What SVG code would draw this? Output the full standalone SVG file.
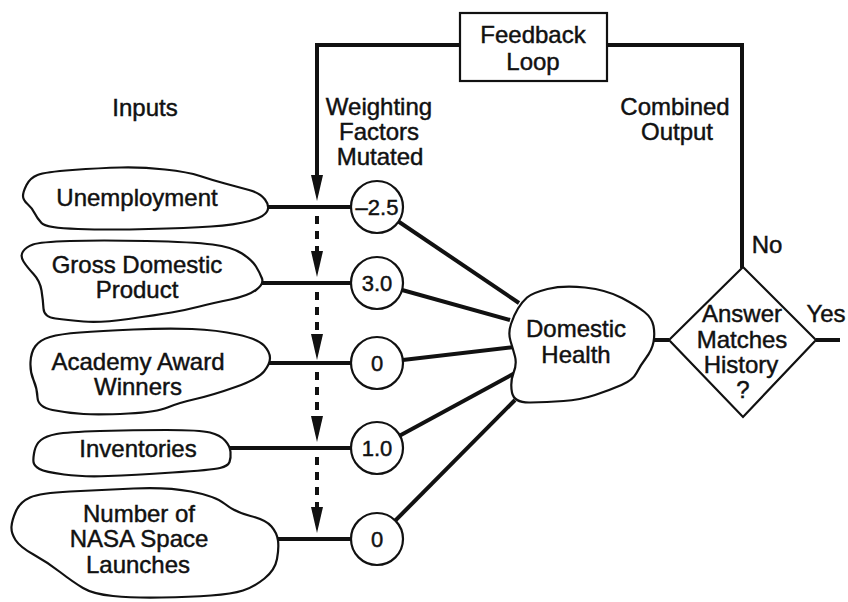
<svg xmlns="http://www.w3.org/2000/svg" width="848" height="602" viewBox="0 0 848 602">
<style>
text{font-family:"Liberation Sans",Arial,sans-serif;font-size:24px;fill:#111;stroke:#111;stroke-width:0.45;text-anchor:middle}
.num{font-size:22px}
.blob{fill:#fff;stroke:#111;stroke-width:2.2;stroke-linejoin:round}
.circ{fill:#fff;stroke:#111;stroke-width:2.2}
.box{fill:#fff;stroke:#111;stroke-width:2.2}
.ln{fill:none;stroke:#111;stroke-width:4}
.dash{fill:none;stroke:#111;stroke-width:4;stroke-dasharray:8 7;stroke-dashoffset:8}
</style>
<defs>
<marker id="arr" markerUnits="userSpaceOnUse" markerWidth="26" markerHeight="14" viewBox="0 0 26 14" refX="1" refY="7" orient="auto">
<path d="M0,1 L26,7 L0,13 Z" fill="#111"/>
</marker>
</defs>
<rect width="848" height="602" fill="#fff"/>
<g id="connectors">
<path class="ln" d="M742,268 V45 H607"/>
<path class="ln" d="M460,45 H317 V176" marker-end="url(#arr)"/>
<path class="dash" d="M317,209 V252" marker-end="url(#arr)"/>
<path class="dash" d="M317,285 V335" marker-end="url(#arr)"/>
<path class="dash" d="M317,365 V417" marker-end="url(#arr)"/>
<path class="dash" d="M317,450 V508" marker-end="url(#arr)"/>
<path class="ln" d="M266,207 H352"/>
<path class="ln" d="M261,283 H352"/>
<path class="ln" d="M268,363 H352"/>
<path class="ln" d="M229,448 H352"/>
<path class="ln" d="M276,539 H352"/>
<path class="ln" d="M377,207 L519,303"/>
<path class="ln" d="M377,283 L510,320"/>
<path class="ln" d="M377,363 L515,347"/>
<path class="ln" d="M377,448 L515,373"/>
<path class="ln" d="M377,539 L515,400"/>
<path class="ln" d="M653,340 H669"/>
<path class="ln" d="M816,340 H840"/>
</g>
<g id="feedback">
<rect class="box" x="460" y="13" width="147" height="68"/>
<text x="533" y="43">Feedback</text>
<text x="533" y="70">Loop</text>
</g>
<g id="labels">
<text x="145" y="116">Inputs</text>
<text x="379" y="115">Weighting</text>
<text x="379" y="140">Factors</text>
<text x="380" y="165">Mutated</text>
<text x="675" y="115">Combined</text>
<text x="677" y="140">Output</text>
<text x="767" y="253">No</text>
<text x="826" y="322">Yes</text>
</g>
<g id="in-unemployment">
<path class="blob" d="M23,196 Q23,192 26.5,185 Q30,178 37.5,175 Q45,172 72.5,170 Q100,168 121,167.5 Q142,167 165,169.5 Q188,172 200,176 Q212,180 225,183.5 Q238,187 249,190 Q260,193 265,199.5 Q270,206 267,211.5 Q264,217 249.5,221 Q235,225 211,226.5 Q187,228 148.5,229 Q110,230 78,229 Q46,228 41.5,223 Q37,218 34.5,213 Q32,208 27.5,204 Q23,200 23,196 Z"/>
<text x="137" y="206">Unemployment</text>
</g>
<g id="in-gdp">
<path class="blob" d="M23.5,261.5 Q20,256 23,251.5 Q26,247 33,244.5 Q40,242 70,241 Q100,240 146.5,241 Q193,242 212.5,244.5 Q232,247 242,253.5 Q252,260 256,266.5 Q260,273 262,278.5 Q264,284 256,290 Q248,296 230.5,299.5 Q213,303 199.5,306.5 Q186,310 171.5,312.5 Q157,315 128.5,319 Q100,323 83.5,321.5 Q67,320 55.5,318.5 Q44,317 43.5,308.5 Q43,300 41.5,290.5 Q40,281 33.5,274 Q27,267 23.5,261.5 Z"/>
<text x="137" y="273">Gross Domestic</text>
<text x="137" y="298">Product</text>
</g>
<g id="in-academy">
<path class="blob" d="M33.5,380 Q30,372 30.5,362 Q31,352 35.5,346 Q40,340 50,337 Q60,334 80,332.5 Q100,331 133.5,329.5 Q167,328 192,329 Q217,330 237.5,334.5 Q258,339 264,345.5 Q270,352 270,358 Q270,364 264,371.5 Q258,379 235.5,387 Q213,395 195.5,399 Q178,403 167.5,407.5 Q157,412 128.5,413.5 Q100,415 83.5,414 Q67,413 52.5,410 Q38,407 37.5,397.5 Q37,388 33.5,380 Z"/>
<text x="138" y="370">Academy Award</text>
<text x="138" y="395">Winners</text>
</g>
<g id="in-inventories">
<path class="blob" d="M33.5,462 Q33,458 34.5,451 Q36,444 41,440 Q46,436 56.5,434 Q67,432 100,431 Q133,430 166.5,430 Q200,430 210,432.5 Q220,435 225,440.5 Q230,446 230.5,452 Q231,458 229.5,462 Q228,466 220,468 Q212,470 172.5,472.5 Q133,475 108,476 Q83,477 64,474.5 Q45,472 39.5,469 Q34,466 33.5,462 Z"/>
<text x="138" y="457">Inventories</text>
</g>
<g id="in-nasa">
<path class="blob" d="M11.5,526.5 Q12,520 16,511 Q20,502 30,497.5 Q40,493 70,491.5 Q100,490 133.5,488.5 Q167,487 191,491.5 Q215,496 225,504 Q235,512 250.5,516 Q266,520 271.5,526.5 Q277,533 278,540.5 Q279,548 277,559 Q275,570 264.5,578.5 Q254,587 243,590.5 Q232,594 211,595.5 Q190,597 161.5,597.5 Q133,598 113,596 Q93,594 83,588 Q73,582 60,572 Q47,562 33.5,554.5 Q20,547 15.5,540 Q11,533 11.5,526.5 Z"/>
<text x="139" y="522">Number of</text>
<text x="139" y="547">NASA Space</text>
<text x="138" y="573">Launches</text>
</g>
<g id="w1"><circle class="circ" cx="377" cy="207" r="26"/><text class="num" x="377" y="215">–2.5</text></g>
<g id="w2"><circle class="circ" cx="377" cy="283" r="26"/><text class="num" x="377" y="291">3.0</text></g>
<g id="w3"><circle class="circ" cx="377" cy="363" r="26"/><text class="num" x="377" y="371">0</text></g>
<g id="w4"><circle class="circ" cx="377" cy="448" r="26"/><text class="num" x="377" y="456">1.0</text></g>
<g id="w5"><circle class="circ" cx="377" cy="539" r="26"/><text class="num" x="377" y="547">0</text></g>
<g id="domestic-health">
<path class="blob" d="M510.5,341 Q508,333 511,324 Q514,315 518,308.5 Q522,302 527,297.5 Q532,293 547.5,289 Q563,285 585,287.5 Q607,290 622,298 Q637,306 644.5,312 Q652,318 653.5,326 Q655,334 653.5,342 Q652,350 646,358 Q640,366 636.5,373 Q633,380 621.5,385 Q610,390 595,395 Q580,400 563.5,401 Q547,402 530.5,402.5 Q514,403 512,392.5 Q510,382 513.5,373 Q517,364 515,356.5 Q513,349 510.5,341 Z"/>
<text x="576" y="337">Domestic</text>
<text x="576" y="363">Health</text>
</g>
<g id="decision">
<polygon class="box" points="669,340 743,267 816,340 743,417"/>
<text x="742" y="322">Answer</text>
<text x="742" y="348">Matches</text>
<text x="741" y="373">History</text>
<text x="743" y="398">?</text>
</g>
</svg>
